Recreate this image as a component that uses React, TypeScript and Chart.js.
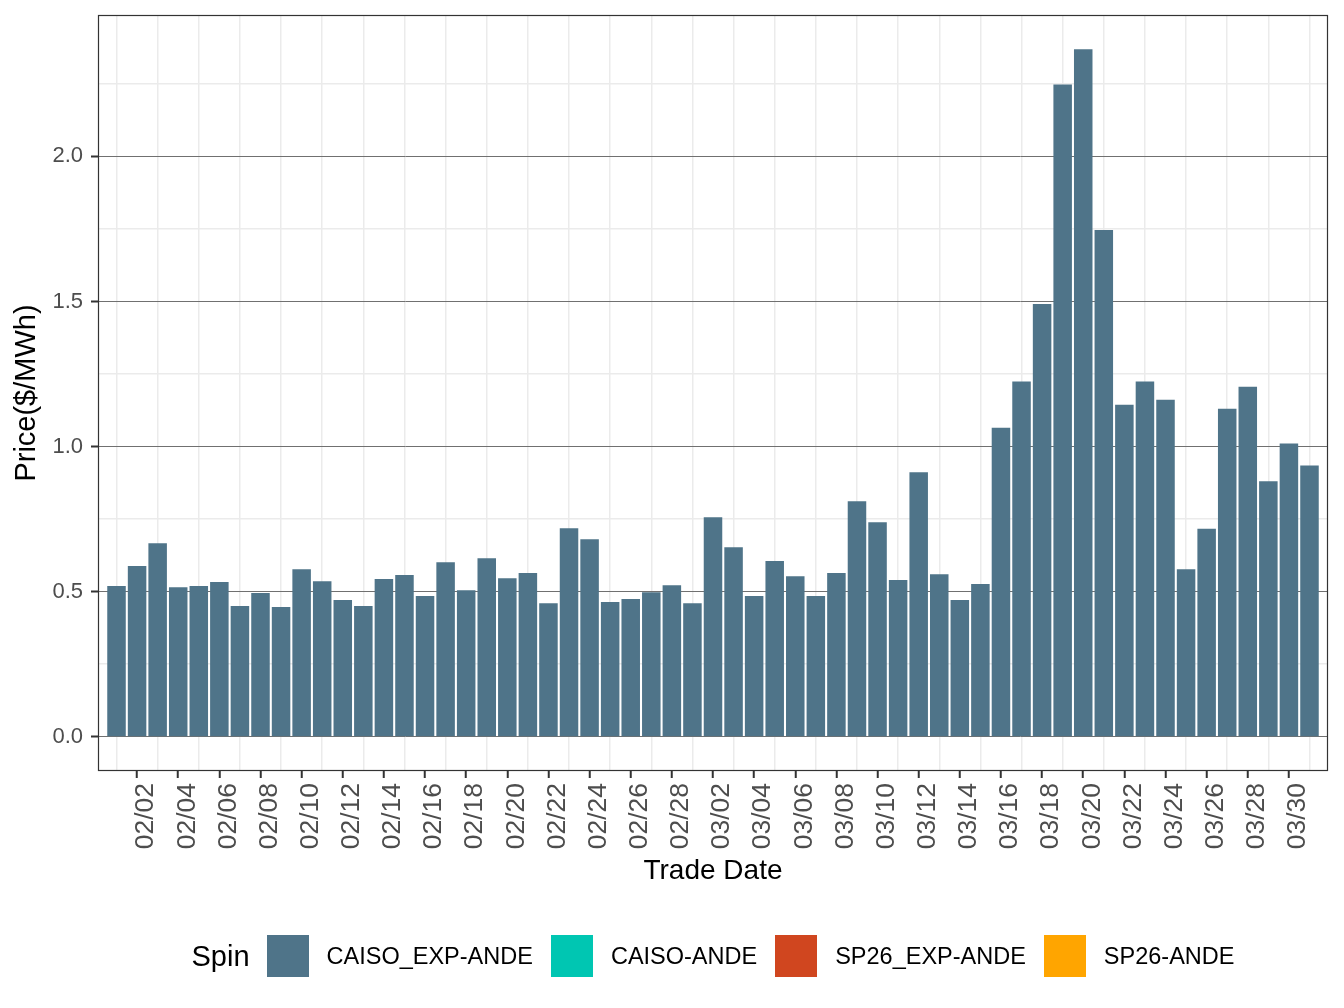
import React, { useEffect, useRef } from "react";
import { Chart, registerables } from "chart.js";

Chart.register(...registerables);

const tradeDates = [
  "02/01", "02/02", "02/03", "02/04", "02/05", "02/06", "02/07", "02/08", "02/09", "02/10",
  "02/11", "02/12", "02/13", "02/14", "02/15", "02/16", "02/17", "02/18", "02/19", "02/20",
  "02/21", "02/22", "02/23", "02/24", "02/25", "02/26", "02/27", "02/28",
  "03/01", "03/02", "03/03", "03/04", "03/05", "03/06", "03/07", "03/08", "03/09", "03/10",
  "03/11", "03/12", "03/13", "03/14", "03/15", "03/16", "03/17", "03/18", "03/19", "03/20",
  "03/21", "03/22", "03/23", "03/24", "03/25", "03/26", "03/27", "03/28", "03/29", "03/30",
  "03/31",
];

const caisoExpAnde = [
  0.519, 0.588, 0.667, 0.515, 0.519, 0.533, 0.450, 0.495, 0.447, 0.577,
  0.536, 0.471, 0.450, 0.543, 0.557, 0.485, 0.601, 0.505, 0.615, 0.546,
  0.564, 0.460, 0.718, 0.680, 0.464, 0.474, 0.498, 0.522,
  0.460, 0.756, 0.653, 0.485, 0.605, 0.553, 0.485, 0.564, 0.811, 0.739,
  0.540, 0.911, 0.560, 0.471, 0.526, 1.065, 1.224, 1.491, 2.248, 2.369,
  1.746, 1.144, 1.224, 1.161, 0.577, 0.717, 1.130, 1.206, 0.880, 1.010,
  0.935,
];

const spinSeries = ["CAISO_EXP-ANDE", "CAISO-ANDE", "SP26_EXP-ANDE", "SP26-ANDE"];
const spinColors = ["#4F7489", "#00C6B2", "#D0461F", "#FFA500"];

const yMajorTicks = [0, 0.5, 1.0, 1.5, 2.0];
const yMinorTicks = [0.25, 0.75, 1.25, 1.75, 2.25];

const FONT = "'Liberation Sans', Arial, Helvetica, sans-serif";

const panelBorder = {
  id: "panelBorder",
  afterDraw(chart: any) {
    const { ctx, chartArea } = chart;
    const { left, top, right, bottom } = chartArea;
    ctx.save();
    ctx.strokeStyle = "#333333";
    ctx.lineWidth = 1.2;
    ctx.strokeRect(left + 0.5, top + 0.5, right - left - 1, bottom - top - 1);
    ctx.restore();
  },
};

export default function App() {
  const ref = useRef<HTMLCanvasElement | null>(null);

  useEffect(() => {
    if (!ref.current) return;
    Chart.defaults.font.family = FONT;
    const hi = Math.max(...caisoExpAnde);
    const pad = hi * 0.05;
    const allY = [...yMajorTicks, ...yMinorTicks].sort((a, b) => a - b);
    const isMajorY = (v: number) => yMajorTicks.includes(v);

    const chart = new Chart(ref.current, {
      type: "bar",
      data: {
        datasets: [
          {
            label: spinSeries[0],
            data: caisoExpAnde.map((v, i) => ({ x: i, y: v })),
            backgroundColor: spinColors[0],
            borderWidth: 0,
            barPercentage: 0.9,
            categoryPercentage: 1,
          },
        ],
      },
      options: {
        responsive: false,
        animation: false,
        devicePixelRatio: 1,
        layout: { padding: { top: 15, right: 16, bottom: 120, left: 0 } },
        plugins: {
          legend: { display: false },
          tooltip: { enabled: false },
        },
        scales: {
          x: {
            type: "linear",
            min: -0.9,
            max: tradeDates.length - 1 + 0.9,
            offset: false,
            afterBuildTicks: (scale: any) => {
              scale.ticks = tradeDates.map((_, i) => ({ value: i }));
            },
            afterFit: (scale: any) => {
              scale.height = 117;
              scale.paddingLeft = 0;
              scale.paddingRight = 0;
            },
            ticks: {
              autoSkip: false,
              minRotation: 90,
              maxRotation: 90,
              padding: 5,
              labelOffset: 9,
              color: "#4D4D4D",
              font: { family: FONT, size: 26.5 },
              callback: (v: any) => (Number(v) % 2 === 1 ? tradeDates[Number(v)] : ""),
            },
            grid: {
              offset: false,
              color: (ctx: any) =>
                ctx.tick && ctx.tick.value % 2 === 0 ? "#EBEBEB" : "rgba(0,0,0,0)",
              lineWidth: 1.5,
              tickColor: (ctx: any) =>
                ctx.tick && ctx.tick.value % 2 === 1 ? "#333333" : "rgba(0,0,0,0)",
              tickLength: 7,
              tickWidth: 2,
            },
            border: { display: false },
            title: {
              display: true,
              text: "Trade Date",
              color: "#000000",
              font: { family: FONT, size: 28 },
              padding: { top: 0, bottom: 0 },
            },
          },
          y: {
            type: "linear",
            min: -pad,
            max: hi + pad,
            afterBuildTicks: (scale: any) => {
              scale.ticks = allY.map((v) => ({ value: v }));
            },
            afterFit: (scale: any) => {
              scale.width = 98;
              scale.paddingTop = 0;
              scale.paddingBottom = 0;
            },
            ticks: {
              padding: 8,
              color: "#4D4D4D",
              font: { family: FONT, size: 22 },
              callback: (v: any) => (isMajorY(Number(v)) ? Number(v).toFixed(1) : ""),
            },
            grid: {
              color: (ctx: any) =>
                ctx.tick && isMajorY(ctx.tick.value) ? "#707070" : "#EBEBEB",
              lineWidth: (ctx: any) => (ctx.tick && isMajorY(ctx.tick.value) ? 1 : 1.5),
              tickColor: (ctx: any) =>
                ctx.tick && isMajorY(ctx.tick.value) ? "#333333" : "rgba(0,0,0,0)",
              tickLength: 7,
              tickWidth: 2,
            },
            border: { display: false },
            title: {
              display: true,
              text: "Price($/MWh)",
              color: "#000000",
              font: { family: FONT, size: 29 },
              padding: { top: 10, bottom: 0 },
            },
          },
        },
      } as any,
      plugins: [panelBorder],
    });
    return () => chart.destroy();
  }, []);

  return (
    <div
      style={{
        position: "absolute",
        left: 0,
        top: 0,
        width: 1344,
        height: 1008,
        background: "#ffffff",
        fontFamily: FONT,
      }}
    >
      <canvas ref={ref} width={1344} height={1008} style={{ display: "block" }} />
      <div
        style={{
          position: "absolute",
          left: 98,
          width: 1230,
          top: 935,
          height: 42,
          display: "flex",
          justifyContent: "center",
          alignItems: "center",
          color: "#000000",
        }}
      >
        <span style={{ fontSize: 29, marginRight: 17 }}>Spin</span>
        {spinSeries.map((s, i) => (
          <div
            key={s}
            style={{
              display: "flex",
              alignItems: "center",
              marginRight: i < spinSeries.length - 1 ? 18 : 0,
            }}
          >
            <span
              style={{
                display: "inline-block",
                width: 42,
                height: 42,
                background: spinColors[i],
              }}
            />
            <span style={{ fontSize: 23.5, marginLeft: 18 }}>{s}</span>
          </div>
        ))}
      </div>
    </div>
  );
}
